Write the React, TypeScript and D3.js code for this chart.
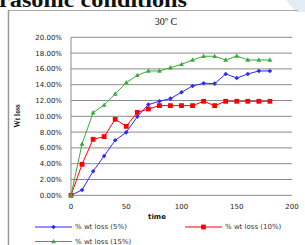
import React from "react";
import * as d3 from "d3";

const times = [0, 10, 20, 30, 40, 50, 60, 70, 80, 90, 100, 110, 120, 130, 140, 150, 160, 170, 180];
const loss5 = [0, 0.68, 3.04, 4.98, 6.96, 7.97, 9.96, 11.48, 11.9, 12.24, 13.04, 13.84, 14.18, 14.14, 15.36, 14.85, 15.36, 15.74, 15.74];
const loss10 = [0, 3.92, 7.09, 7.43, 9.62, 8.73, 10.5, 10.93, 11.35, 11.35, 11.35, 11.35, 11.9, 11.35, 11.9, 11.9, 11.9, 11.9, 11.9];
const loss15 = [0, 6.5, 10.46, 11.43, 12.83, 14.26, 15.19, 15.74, 15.74, 16.16, 16.58, 17.13, 17.6, 17.6, 17.13, 17.64, 17.13, 17.13, 17.13];
const yTicks = [0, 2, 4, 6, 8, 10, 12, 14, 16, 18, 20];
const xTicks = [0, 50, 100, 150, 200];
const seriesNames = ["% wt loss  (5%)", "% wt loss  (10%)", "% wt loss  (15%)"];
const seriesColors = ["#2a2aff", "#ff0000", "#3aaa3a"];

export default function App() {
  const x = d3.scaleLinear().domain([0, 200]).range([71, 292]);
  const y = d3.scaleLinear().domain([0, 20]).range([195.3, 37.3]);
  const data = [loss5, loss10, loss15];
  const line = (vals: number[]) =>
    d3.line<number>().x((_, i) => x(times[i])).y((v) => y(v))(vals) || "";
  const font = "'DejaVu Sans', Verdana, sans-serif";

  const marker = (k: number, cx: number, cy: number, key: string) => {
    const c = seriesColors[k];
    if (k === 0) {
      return <path key={key} d={`M${cx},${cy - 2.3}L${cx + 2.3},${cy}L${cx},${cy + 2.3}L${cx - 2.3},${cy}Z`} fill={c} />;
    }
    if (k === 1) {
      return <rect key={key} x={cx - 2.4} y={cy - 2.4} width={4.8} height={4.8} fill={c} />;
    }
    return <path key={key} d={`M${cx},${cy - 2.6}L${cx + 2.4},${cy + 1.8}L${cx - 2.4},${cy + 1.8}Z`} fill={c} />;
  };

  const legendPos = [
    { x1: 35, x2: 72, y: 227 },
    { x1: 185, x2: 222, y: 227 },
    { x1: 35, x2: 72, y: 241.5 },
  ];

  return (
    <svg width={305} height={245} style={{ position: "fixed", left: 0, top: 0, background: "#fff" }}>
      <rect x={0} y={0} width={305} height={245} fill="#fff" />
      <path d="M286,0L305,0L305,12L296,12Z" fill="#e3ecf3" />
      <text x={-1} y={7} fontFamily="'Liberation Serif', 'Times New Roman', serif" fontWeight="bold" fontSize={21} textLength={188} lengthAdjust="spacingAndGlyphs" fill="#111">
        rasonic conditions
      </text>
      <line x1={8} y1={10.5} x2={298} y2={10.5} stroke="#aaa" strokeWidth={1} />
      <line x1={8.5} y1={10} x2={8.5} y2={245} stroke="#999" strokeWidth={1.5} />
      <text x={166} y={25} textAnchor="middle" fontFamily="'Liberation Serif', 'Times New Roman', serif" fontSize={10} fill="#111">
        30º C
      </text>
      {yTicks.map((t) => (
        <g key={"y" + t}>
          <line x1={71} x2={292} y1={y(t)} y2={y(t)} stroke="#8a8a8a" strokeWidth={1} />
          <text x={62} y={y(t) + 2.4} textAnchor="end" fontFamily={font} fontSize={7} fill="#222">
            {t.toFixed(2) + "%"}
          </text>
        </g>
      ))}
      <line x1={71} x2={71} y1={37.3} y2={195.3} stroke="#8a8a8a" strokeWidth={1} />
      {xTicks.map((t) => (
        <text key={"x" + t} x={x(t)} y={209} textAnchor="middle" fontFamily={font} fontSize={7} fill="#222">
          {t}
        </text>
      ))}
      <text x={157} y={219} textAnchor="middle" fontFamily={font} fontWeight="bold" fontSize={7} fill="#111">
        time
      </text>
      <text transform="translate(20,116) rotate(-90)" textAnchor="middle" fontFamily="'Liberation Serif', serif" fontWeight="bold" fontSize={7.5} fill="#111">
        Wt loss
      </text>
      {data.map((vals, k) => (
        <g key={"s" + k}>
          <path d={line(vals)} fill="none" stroke={seriesColors[k]} strokeWidth={1} />
          {vals.map((v, i) => marker(k, x(times[i]), y(v), `m${k}-${i}`))}
        </g>
      ))}
      {legendPos.map((p, k) => (
        <g key={"l" + k}>
          <line x1={p.x1} x2={p.x2} y1={p.y} y2={p.y} stroke={seriesColors[k]} strokeWidth={1} />
          {marker(k, (p.x1 + p.x2) / 2, p.y, "lm" + k)}
          <text x={p.x2 + 3} y={p.y + 2.4} fontFamily={font} fontSize={7} fill="#333">
            {seriesNames[k]}
          </text>
        </g>
      ))}
    </svg>
  );
}
